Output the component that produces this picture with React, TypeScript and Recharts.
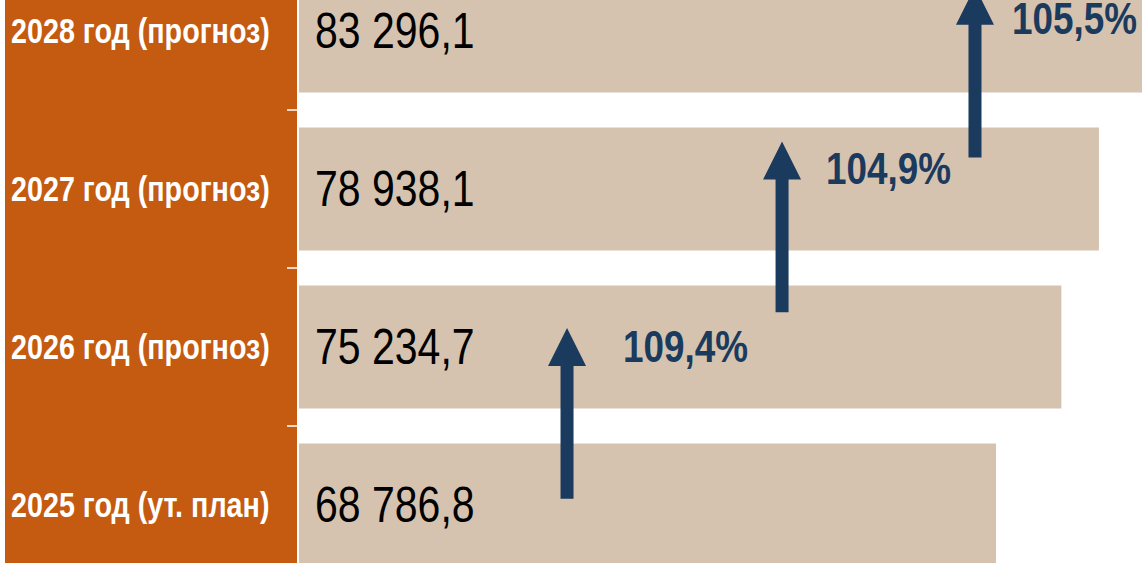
import {
  BarChart,
  Bar,
  XAxis,
  YAxis,
  LabelList,
  ReferenceLine,
  ReferenceDot,
} from "recharts";

const categories = [
  "2025 год (ут. план)",
  "2026 год (прогноз)",
  "2027 год (прогноз)",
  "2028 год (прогноз)",
];
const values = [68786.8, 75234.7, 78938.1, 83296.1];

// growth arrows: x in value units, y on the helper band axis (0..4, bottom to top)
const arrowX = [26450, 47670, 66710];
const arrowFrom = [0.54, 1.72, 2.7];
const arrowTo = [1.62, 2.8, 3.78];
const growthLabels = ["109,4%", "104,9%", "105,5%"];
const growthX = [31980, 52010, 70360];
const growthY = [1.5, 2.63, 3.58];

// boundaries between the year bands
const bandTicks = [1, 2, 3];

const ORANGE = "#C55A11";
const TAN = "#D6C3AF";
const BLUE = "#1A3A5E";
const FONT = '"Liberation Sans", Arial, sans-serif';

const data = categories.map((name, i) => ({ name, value: values[i] }));

const fmt = (v: number) => {
  const [int, dec] = v.toFixed(1).split(".");
  return int.replace(/\B(?=(\d{3})+(?!\d))/g, " ") + "," + dec;
};

// no Arial Narrow here, so squeeze Liberation Sans the same way
const NarrowText = ({ x, y, size, bold, fill, children }: any) => (
  <text
    transform={`translate(${x},${y}) scale(0.82,1)`}
    dominantBaseline="central"
    fill={fill}
    fontWeight={bold ? "bold" : "normal"}
    fontSize={size}
    fontFamily={FONT}
  >
    {children}
  </text>
);

const CategoryTick = (props: any) => (
  <NarrowText x={11} y={props.y} size={35} bold fill="#fff">
    {props.payload.value}
  </NarrowText>
);

const ValueLabel = (props: any) => {
  const { x, y, height, value } = props;
  return (
    <NarrowText x={x + 16} y={y + height / 2} size={50} fill="#000">
      {fmt(Number(value))}
    </NarrowText>
  );
};

const BoundaryTick = (props: any) => (
  <line
    x1={props.x1 - 12}
    x2={props.x1 - 2}
    y1={props.y1}
    y2={props.y1}
    stroke="#fff"
    strokeWidth={1.5}
  />
);

const Arrow = (props: any) => {
  const { x1, y1, x2, y2 } = props;
  const shaft = 6.5;
  const head = 19;
  const headLen = 38;
  const x = (x1 + x2) / 2;
  const pts = [
    [x - shaft, y1],
    [x - shaft, y2 + headLen],
    [x - head, y2 + headLen],
    [x, y2],
    [x + head, y2 + headLen],
    [x + shaft, y2 + headLen],
    [x + shaft, y1],
  ]
    .map((p) => p.join(","))
    .join(" ");
  return <polygon points={pts} fill={BLUE} />;
};

const GrowthLabel = (text: string) => (props: any) => (
  <NarrowText x={props.cx} y={props.cy} size={45} bold fill={BLUE}>
    {text}
  </NarrowText>
);

export default function App() {
  return (
    <div
      style={{
        position: "absolute",
        left: 0,
        top: 0,
        width: 1142,
        height: 563,
        overflow: "hidden",
        background: "#fff",
      }}
    >
      <div
        style={{
          position: "absolute",
          left: 5,
          top: 0,
          width: 292,
          height: 563,
          background: ORANGE,
        }}
      />
      <div style={{ position: "absolute", left: 0, top: -48 }}>
        <BarChart
          width={1211}
          height={632}
          data={data}
          layout="vertical"
          margin={{ top: 0, right: 0, bottom: 0, left: 0 }}
          barCategoryGap="11%"
        >
          <XAxis type="number" domain={[0, 90000]} allowDataOverflow hide />
          <YAxis
            yAxisId="cat"
            type="category"
            dataKey="name"
            reversed
            width={299}
            tickLine={false}
            axisLine={false}
            tick={<CategoryTick />}
          />
          <YAxis
            yAxisId="band"
            type="number"
            dataKey="band"
            domain={[0, 4]}
            allowDataOverflow
            reversed
            hide
          />
          <Bar
            yAxisId="cat"
            dataKey="value"
            fill={TAN}
            isAnimationActive={false}
          >
            <LabelList dataKey="value" content={<ValueLabel />} />
          </Bar>
          {bandTicks.map((t) => (
            <ReferenceLine
              key={"t" + t}
              yAxisId="band"
              y={t}
              ifOverflow="visible"
              shape={BoundaryTick}
            />
          ))}
          {arrowX.map((x, i) => (
            <ReferenceLine
              key={"a" + i}
              yAxisId="band"
              segment={[
                { x, y: arrowFrom[i] },
                { x, y: arrowTo[i] },
              ]}
              shape={Arrow}
            />
          ))}
          {growthLabels.map((t, i) => (
            <ReferenceDot
              key={"g" + i}
              yAxisId="band"
              x={growthX[i]}
              y={growthY[i]}
              r={0}
              shape={GrowthLabel(t)}
            />
          ))}
        </BarChart>
      </div>
    </div>
  );
}
